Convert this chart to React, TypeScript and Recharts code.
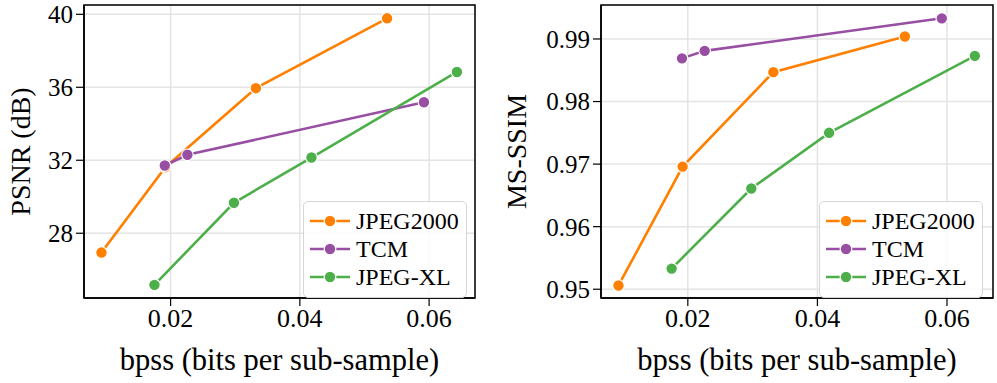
import React from "react";
import {
  LineChart,
  Line,
  XAxis,
  YAxis,
  CartesianGrid,
  ReferenceArea,
  Legend,
  Label,
} from "recharts";

// bpss values per codec (shared by both panels)
const jpeg2000Bpss = [0.0093, 0.0192, 0.0332, 0.0535];
const tcmBpss = [0.0191, 0.0226, 0.0592];
const jpegXlBpss = [0.0175, 0.0298, 0.0418, 0.0643];

// PSNR (dB)
const jpeg2000Psnr = [26.94, 31.62, 35.95, 39.78];
const tcmPsnr = [31.71, 32.3, 35.18];
const jpegXlPsnr = [25.17, 29.67, 32.15, 36.84];

// MS-SSIM
const jpeg2000Msssim = [0.9506, 0.9696, 0.9847, 0.9904];
const tcmMsssim = [0.9869, 0.9881, 0.9933];
const jpegXlMsssim = [0.9533, 0.9661, 0.975, 0.9873];

const bpssTicks = [0.02, 0.04, 0.06];
const psnrTicks = [28, 32, 36, 40];
const msssimTicks = [0.95, 0.96, 0.97, 0.98, 0.99];

const seriesNames = ["JPEG2000", "TCM", "JPEG-XL"];
const seriesColors = ["#ff7f00", "#984ea3", "#4daf4a"];

const FONT = "Liberation Serif, DejaVu Serif, Times New Roman, serif";
const X_DOMAIN: [number, number] = [0.0066, 0.0671];

const toPoints = (xs: number[], ys: number[]) =>
  xs.map((x, i) => ({ x, y: ys[i] }));

interface PanelProps {
  yLabel: string;
  ys: number[][];
  yDomain: [number, number];
  yTicks: number[];
  yFormat: (v: number) => string;
  width: number;
  yAxisWidth: number;
  rightMargin: number;
  yLabelX: number;
  legendLeft: number;
}

const renderLegend = (left: number) => (props: any) => {
  // keep the plotting order, not alphabetical
  const payload = [...(props.payload || [])].sort(
    (a: any, b: any) => seriesNames.indexOf(a.value) - seriesNames.indexOf(b.value)
  );
  return (
    <div
      style={{
        position: "absolute",
        left,
        top: 201,
        width: 164,
        height: 97,
        boxSizing: "border-box",
        border: "1px solid #d6d6d6",
        borderRadius: 5,
        background: "rgba(255,255,255,0.85)",
        paddingTop: 5,
        fontFamily: FONT,
        fontSize: 24,
        color: "#000",
      }}
    >
      {payload.map((p: any) => (
        <div
          key={p.value}
          style={{ display: "flex", alignItems: "center", height: 28 }}
        >
          <svg width={46} height={14} style={{ marginLeft: 6, flex: "none" }}>
            <line x1={0} y1={7} x2={40} y2={7} stroke={p.color} strokeWidth={2.6} />
            <circle cx={20} cy={7} r={5.8} fill={p.color} stroke="#fff" strokeWidth={1.2} />
          </svg>
          <span style={{ lineHeight: "28px" }}>{p.value}</span>
        </div>
      ))}
    </div>
  );
};

function Panel({
  yLabel,
  ys,
  yDomain,
  yTicks,
  yFormat,
  width,
  yAxisWidth,
  rightMargin,
  yLabelX,
  legendLeft,
}: PanelProps) {
  const xs = [jpeg2000Bpss, tcmBpss, jpegXlBpss];
  return (
    <LineChart
      width={width}
      height={383}
      margin={{ top: 5, right: rightMargin, bottom: 0, left: 0 }}
      style={{ fontFamily: FONT }}
    >
      <CartesianGrid stroke="#e4e4e4" strokeWidth={1.5} />
      <XAxis
        type="number"
        dataKey="x"
        domain={X_DOMAIN}
        ticks={bpssTicks}
        allowDataOverflow
        tickFormatter={(v: number) => v.toFixed(2)}
        tick={{ fill: "#000", fontSize: 26, style: { fontFamily: FONT } }}
        tickLine={{ stroke: "#000", strokeWidth: 1.2 }}
        tickSize={8}
        tickMargin={3}
        axisLine={{ stroke: "#000", strokeWidth: 1.5 }}
        height={85}
      >
        <Label
          value="bpss (bits per sub-sample)"
          position="insideBottom"
          offset={13}
          style={{ fontSize: 30.5, fontFamily: FONT, fill: "#000" }}
        />
      </XAxis>
      <YAxis
        type="number"
        domain={yDomain}
        ticks={yTicks}
        allowDataOverflow
        tickFormatter={yFormat}
        tick={{ fill: "#000", fontSize: 25, style: { fontFamily: FONT } }}
        tickLine={{ stroke: "#000", strokeWidth: 1.2 }}
        tickSize={8}
        tickMargin={3}
        axisLine={{ stroke: "#000", strokeWidth: 1.5 }}
        width={yAxisWidth}
      >
        <Label
          content={(props: any) => {
            const vb = props.viewBox || { y: 5, height: 293 };
            const cy = vb.y + vb.height / 2;
            return (
              <text
                x={yLabelX}
                y={cy}
                transform={`rotate(-90 ${yLabelX} ${cy})`}
                textAnchor="middle"
                dominantBaseline="central"
                fontSize={28}
                style={{ fontFamily: FONT }}
                fill="#000"
              >
                {yLabel}
              </text>
            );
          }}
        />
      </YAxis>
      <ReferenceArea
        x1={X_DOMAIN[0]}
        x2={X_DOMAIN[1]}
        y1={yDomain[0]}
        y2={yDomain[1]}
        fill="none"
        stroke="#000"
        strokeWidth={1.5}
      />
      {seriesNames.map((name, i) => (
        <Line
          key={name}
          name={name}
          type="linear"
          data={toPoints(xs[i], ys[i])}
          dataKey="y"
          stroke={seriesColors[i]}
          strokeWidth={2.6}
          dot={{ r: 5.8, fill: seriesColors[i], stroke: "#fff", strokeWidth: 1.2 }}
          activeDot={false}
          isAnimationActive={false}
        />
      ))}
      <Legend
        layout="vertical"
        align="center"
        verticalAlign="middle"
        wrapperStyle={{ left: 0, top: 0, width: 0, height: 0 }}
        content={renderLegend(legendLeft)}
      />
    </LineChart>
  );
}

export default function App() {
  return (
    <div
      style={{
        position: "absolute",
        left: 0,
        top: 0,
        width: 997,
        height: 383,
        background: "#fff",
        fontFamily: FONT,
      }}
    >
      <div style={{ position: "absolute", left: 0, top: 0 }}>
        <Panel
          yLabel="PSNR (dB)"
          ys={[jpeg2000Psnr, tcmPsnr, jpegXlPsnr]}
          yDomain={[24.45, 40.51]}
          yTicks={psnrTicks}
          yFormat={(v) => String(v)}
          width={500}
          yAxisWidth={84}
          rightMargin={25}
          yLabelX={20}
          legendLeft={303}
        />
      </div>
      <div style={{ position: "absolute", left: 500, top: 0 }}>
        <Panel
          yLabel="MS-SSIM"
          ys={[jpeg2000Msssim, tcmMsssim, jpegXlMsssim]}
          yDomain={[0.9486, 0.99543]}
          yTicks={msssimTicks}
          yFormat={(v) => v.toFixed(2)}
          width={497}
          yAxisWidth={101}
          rightMargin={4}
          yLabelX={16}
          legendLeft={319}
        />
      </div>
    </div>
  );
}
